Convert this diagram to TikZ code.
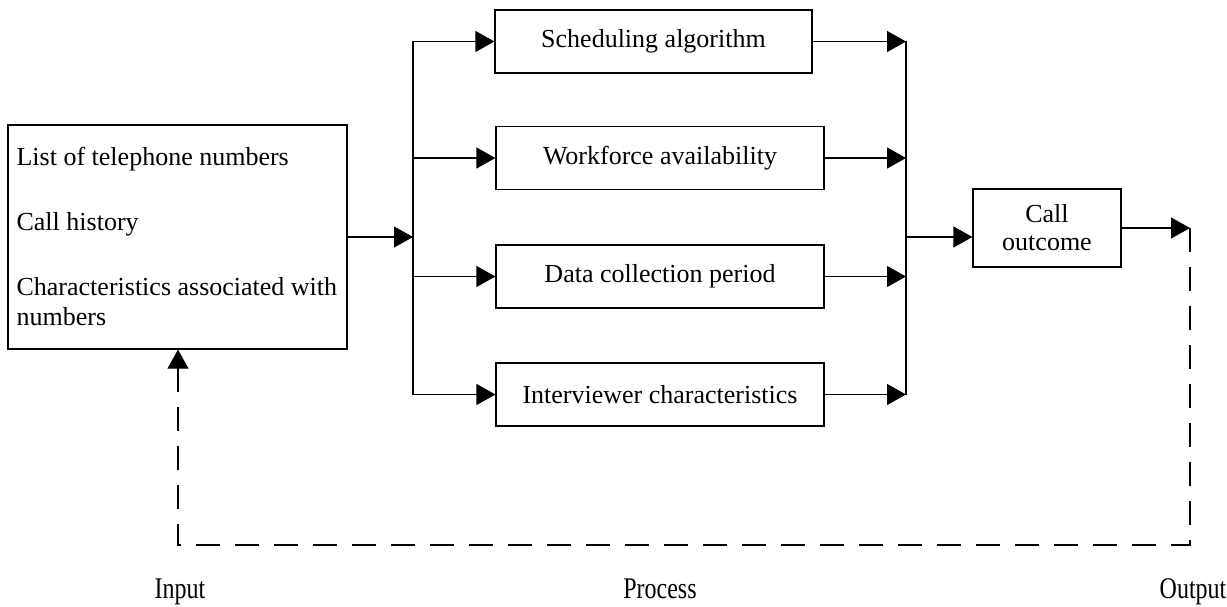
\documentclass[tikz,border=0pt]{standalone}
\usepackage{fontspec}
\setmainfont{Liberation Serif}
\usetikzlibrary{arrows.meta,calc}

\begin{document}
\begin{tikzpicture}[x=1pt,y=-1pt,
  line width=1.2pt,
  every node/.style={font=\fontsize{26}{31}\selectfont},
  box/.style={draw, line width=1.2pt, inner sep=0pt, minimum height=63pt},
  procbox/.style={box, minimum width=328pt},
  arr/.style={-{Triangle[length=19pt,width=21pt]}},
  feedback/.style={dash pattern=on 24pt off 15pt},
  stage/.style={anchor=base, font=\fontsize{30}{34}\selectfont, xscale=0.8}
]
\useasboundingbox (0,0) rectangle (1227,607);

% input box and its list
\node[box, minimum width=339pt, minimum height=224pt] (inp) at (177.5,237) {};
\node[anchor=north west, inner sep=0pt, align=left] (inptext) at (16,147)
  {List of telephone numbers\\[34pt]
   Call history\\[34pt]
   Characteristics associated with\\[-1pt]
   numbers};

% process boxes
\node[procbox, minimum width=317pt] (sched) at (653.5,41.5) {Scheduling algorithm};
\node[procbox] (work)  at (660,158)   {Workforce availability};
\node[procbox] (data)  at (660,276.5) {Data collection period};
\node[procbox] (inter) at (660,394.5) {Interviewer characteristics};

% outcome box
\node[box, minimum width=148pt, minimum height=78pt, align=center] (out)
  at (1047,228) {Call\\[-3pt]outcome};

% bus and feedback corners
\coordinate (busL) at (413,237);
\coordinate (busR) at (906,237);
\coordinate (fbOut) at (1190,228);
\coordinate (fbR) at (1190,545);
\coordinate (fbL) at (178,545);

% input to left bus
\draw[arr] (inp.east |- busL) -- (busL);
\draw (sched.west -| busL) -- (inter.west -| busL);

% left bus to process boxes
\foreach \p in {sched,work,data,inter}
  \draw[arr] (\p.west -| busL) -- (\p.west);

% process boxes to right bus
\foreach \p in {sched,work,data,inter}
  \draw[arr] (\p.east) -- (\p.east -| busR);
\draw (sched.east -| busR) -- (inter.east -| busR);

% right bus to outcome
\draw[arr] (busR) -- (out.west |- busR);
\draw[arr] (out.east |- fbOut) -- (fbOut);

% feedback loop
\draw[feedback, arr] (fbOut) -- (fbR) -- (fbL) -- (inp.south -| fbL);

% stage labels
\node[stage] (lin)  at (180,598)  {Input};
\node[stage] (lpr)  at (660,598)  {Process};
\node[stage] (lout) at (1193,598) {Output};
\end{tikzpicture}
\end{document}
